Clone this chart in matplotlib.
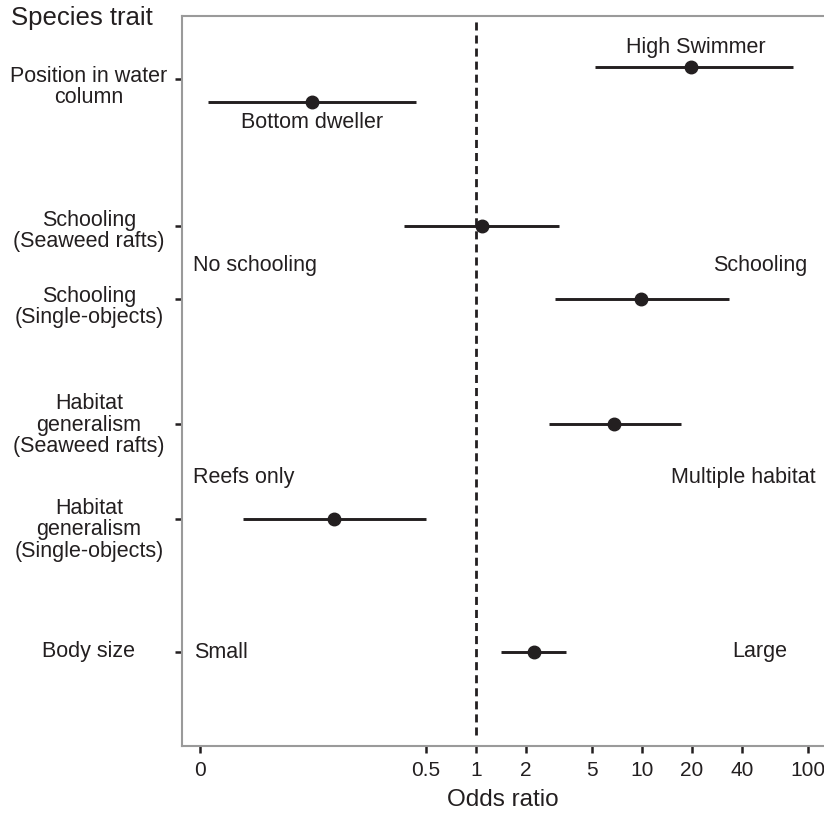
import matplotlib
matplotlib.use('Agg')
import matplotlib.pyplot as plt
from matplotlib.transforms import blended_transform_factory

plt.rcParams['font.family'] = ['Liberation Sans', 'DejaVu Sans']

# rows of the left axis (label, y position)
row_labels = ['Position in water\ncolumn', 'Schooling\n(Seaweed rafts)', 'Schooling\n(Single-objects)',
              'Habitat\ngeneralism\n(Seaweed rafts)', 'Habitat\ngeneralism\n(Single-objects)', 'Body size']
row_pos = [66.7, 52.0, 44.7, 32.2, 22.7, 9.4]
# the labels sit a little lower than their ticks in the original
label_shift = [-0.8, -0.5, -0.8, -0.1, -1.1, 0.0]

# odds ratio estimates with 95% CI
est_names = ['High Swimmer', 'Bottom dweller', 'Schooling SR', 'Schooling SO',
             'Habitat SR', 'Habitat SO', 'Body size']
est_y = [67.9, 64.4, 52.0, 44.7, 32.2, 22.7, 9.4]
odds = [19.7, 0.103, 1.09, 9.86, 6.78, 0.14, 2.24]
ci_low = [5.2, 0.0243, 0.37, 2.99, 2.75, 0.0395, 1.41]
ci_high = [81, 0.435, 3.16, 33.4, 17.2, 0.50, 3.49]

xtick_vals = [0.0217, 0.5, 1, 2, 5, 10, 20, 40, 100]
xtick_labels = ['0', '0.5', '1', '2', '5', '10', '20', '40', '100']

dark = '#231f20'
W, H = 824, 819
fig = plt.figure(figsize=(W / 100, H / 100), dpi=100)
ax = fig.add_axes([182 / W, (H - 746) / H, (W - 182) / W, 730 / H])

for y, m, lo, hi in zip(est_y, odds, ci_low, ci_high):
    ax.plot([lo, hi], [y, y], color=dark, lw=2.1, solid_capstyle='butt', zorder=3)
    ax.plot(m, y, 'o', color=dark, ms=9, zorder=4)

ax.axvline(1, ymin=0.015, ymax=0.997, color=dark, lw=2, ls=(0, (2.9, 1.8)), zorder=2)

ax.set_xscale('log')
ax.set_xlim(0.01694, 124.8)
ax.set_ylim(0, 73)
ax.set_xticks(xtick_vals)
ax.set_xticklabels(xtick_labels, fontsize=15, color=dark)
ax.minorticks_off()
ax.set_yticks(row_pos)
ax.set_yticklabels([])
ax.tick_params(axis='y', direction='out', length=5, width=1.8, color=dark)
ax.tick_params(axis='x', direction='out', length=5, width=1.8, color=dark, pad=6)
ax.set_xlabel('Odds ratio', fontsize=17.5, color=dark, labelpad=6)

lab_tr = blended_transform_factory(fig.transFigure, ax.transData)
for lab, y, dy in zip(row_labels, row_pos, label_shift):
    ax.text(89 / W, y + dy, lab, transform=lab_tr, ha='center', va='center',
            fontsize=15.5, color=dark, linespacing=1.05, clip_on=False)

for side in ['top', 'left', 'bottom']:
    ax.spines[side].set_color('#9a9a9a')
    ax.spines[side].set_linewidth(1.5)
ax.spines['right'].set_visible(False)

# category annotations, placed in axes fraction
t = ax.transAxes
fs = 15.5
ax.text((312 - 182) / 642, (746 - 123) / 730, 'Bottom dweller', transform=t, ha='center', va='center', fontsize=fs, color=dark)
ax.text((696 - 182) / 642, (746 - 47) / 730, 'High Swimmer', transform=t, ha='center', va='center', fontsize=fs, color=dark)
ax.text((193 - 182) / 642, (746 - 265) / 730, 'No schooling', transform=t, ha='left', va='center', fontsize=fs, color=dark)
ax.text((760 - 182) / 642, (746 - 265) / 730, 'Schooling', transform=t, ha='center', va='center', fontsize=fs, color=dark)
ax.text((193 - 182) / 642, (746 - 477) / 730, 'Reefs only', transform=t, ha='left', va='center', fontsize=fs, color=dark)
ax.text((671 - 182) / 642, (746 - 477) / 730, 'Multiple habitat', transform=t, ha='left', va='center', fontsize=fs, color=dark)
ax.text((194 - 182) / 642, (746 - 652) / 730, 'Small', transform=t, ha='left', va='center', fontsize=fs, color=dark)
ax.text((760 - 182) / 642, (746 - 652) / 730, 'Large', transform=t, ha='center', va='center', fontsize=fs, color=dark)

fig.text(82 / W, 1 - 18 / H, 'Species trait', ha='center', va='center', fontsize=18.5, color=dark)

fig.savefig('out.png', dpi=100)
